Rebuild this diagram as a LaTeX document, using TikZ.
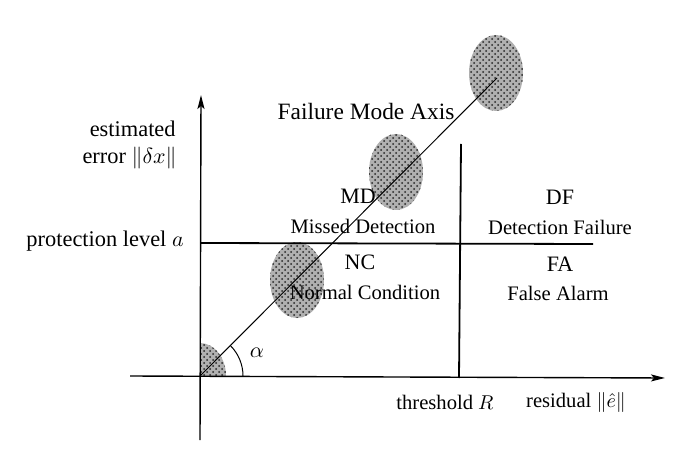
\documentclass[tikz,border=0pt]{standalone}
\usepackage{fontspec}
\setmainfont{Liberation Serif}
\usetikzlibrary{arrows.meta,patterns}
\tikzset{
  lbl/.style={inner sep=0pt, font=\fontsize{11.2}{13}\selectfont},
  rlbl/.style={inner sep=0pt, font=\fontsize{10.3}{12}\selectfont},
  axisline/.style={line width=0.7pt, -{Stealth[length=7pt,width=3.5pt,inset=1.5pt]}},
  divline/.style={line width=0.9pt},
  modeline/.style={line width=0.5pt},
  blob/.style={fill=gray!62},
  blobdots/.style={pattern=crosshatch dots, pattern color=black!85},
}
\begin{document}
\begin{tikzpicture}[x=0.5pt,y=-0.5pt]
\useasboundingbox (0,0) rectangle (678,459);
% coordinates
\coordinate (O) at (200,376);
\coordinate (ytop) at (201,95);
\coordinate (ybot) at (200,440);
\coordinate (xl) at (130,376);
\coordinate (xr) at (665,378);
\coordinate (thtop) at (461,144);
\coordinate (thbot) at (459,378);
\coordinate (pl) at (200,243);
\coordinate (pr) at (593,244);
\coordinate (fmend) at (497,78);
% blobs
\foreach \c in {(496,73),(396,172),(297,280)}{
  \fill[blob] \c ellipse[x radius=13.5pt, y radius=19pt];
  \fill[blobdots] \c ellipse[x radius=13.5pt, y radius=19pt];
}
\fill[blob] (O) -- ++(13pt,0) arc[start angle=0,end angle=90,x radius=13pt,y radius=16.5pt] -- cycle;
\fill[blobdots] (O) -- ++(13pt,0) arc[start angle=0,end angle=90,x radius=13pt,y radius=16.5pt] -- cycle;
% axes
\draw[axisline] (ybot) -- (ytop);
\draw[axisline] (xl) -- (xr);
\draw[divline] (thbot) -- (thtop);
\draw[divline] (pl) -- (pr);
\draw[modeline] (O) -- (fmend);
\draw[modeline] (O) ++(21.5pt,0) arc[start angle=0,end angle=45,radius=21.5pt];
% labels
\node[lbl,anchor=east] (est) at (176,129) {estimated};
\node[lbl,anchor=east] (err) at (177,158) {error $\|\delta x\|$};
\node[lbl,anchor=east] (prot) at (184,241) {protection level $a$};
\node[lbl,font=\fontsize{11.7}{14}\selectfont] (fma) at (366,112) {Failure Mode Axis};
\node[rlbl,font=\fontsize{11}{13}\selectfont] (md) at (358,196) {MD};
\node[rlbl] (mdt) at (363,226) {Missed Detection};
\node[rlbl,font=\fontsize{11}{13}\selectfont] (nc) at (360,262) {NC};
\node[rlbl] (nct) at (365,292) {Normal Condition};
\node[rlbl,font=\fontsize{11}{13}\selectfont] (df) at (560,197) {DF};
\node[rlbl] (dft) at (560,227) {Detection Failure};
\node[rlbl,font=\fontsize{11}{13}\selectfont] (fa) at (560,264) {FA};
\node[rlbl] (fat) at (558,293) {False Alarm};
\node[rlbl] (thr) at (445,402) {threshold $R$};
\node[rlbl] (res) at (576,402) {residual $\|\hat e\|$};
\node[lbl] (alpha) at (257,353) {$\alpha$};
\end{tikzpicture}
\end{document}
